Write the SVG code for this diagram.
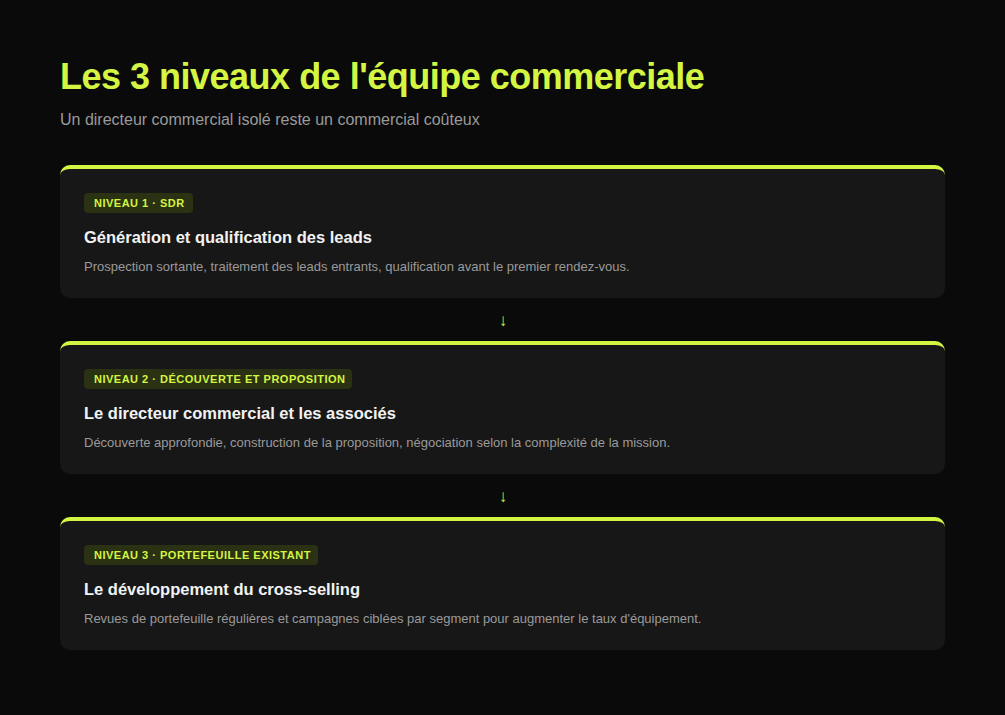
<svg xmlns="http://www.w3.org/2000/svg" width="1005" height="715" viewBox="0 0 1005 715">
<style>
text{font-family:"Liberation Sans",Arial,sans-serif}
.h1{font-size:36px;font-weight:bold;fill:#d4f542;letter-spacing:-0.5px}
.sub{font-size:16px;fill:#9a9a9a}
.card{fill:#171717}
.top{fill:#d4f542}
.badge{fill:#2b3213}
.btxt{font-size:11px;font-weight:bold;fill:#d4f542;letter-spacing:0.5px}
.title{font-size:16.5px;font-weight:bold;fill:#f2f2f2}
.desc{font-size:13px;fill:#9a9a9a}
.arrow{font-size:17px;fill:#d4f542;text-anchor:middle}
</style>
<rect width="1005" height="715" fill="#0a0a0a"/>
<text class="h1" x="60" y="89">Les 3 niveaux de l'équipe commerciale</text>
<text class="sub" x="60" y="125">Un directeur commercial isolé reste un commercial coûteux</text>

<g id="connectors">
<text class="arrow" x="503" y="326">↓</text>
<text class="arrow" x="503" y="502">↓</text>
</g>

<g id="niveau1">
<path class="top" d="M60,176 V175 A10,10 0 0 1 70,165 H935 A10,10 0 0 1 945,175 V176 Z"/>
<path class="card" d="M60,175 A10,6 0 0 1 70,169 H935 A10,6 0 0 1 945,175 V288 A10,10 0 0 1 935,298 H70 A10,10 0 0 1 60,288 Z"/>
<rect class="badge" x="84" y="193" width="109" height="20" rx="4"/>
<text class="btxt" x="94" y="207">NIVEAU 1 · SDR</text>
<text class="title" x="84" y="243">Génération et qualification des leads</text>
<text class="desc" x="84" y="271">Prospection sortante, traitement des leads entrants, qualification avant le premier rendez-vous.</text>
</g>

<g id="niveau2">
<path class="top" d="M60,352 V351 A10,10 0 0 1 70,341 H935 A10,10 0 0 1 945,351 V352 Z"/>
<path class="card" d="M60,351 A10,6 0 0 1 70,345 H935 A10,6 0 0 1 945,351 V464 A10,10 0 0 1 935,474 H70 A10,10 0 0 1 60,464 Z"/>
<rect class="badge" x="84" y="369" width="268" height="20" rx="4"/>
<text class="btxt" x="94" y="383">NIVEAU 2 · DÉCOUVERTE ET PROPOSITION</text>
<text class="title" x="84" y="419">Le directeur commercial et les associés</text>
<text class="desc" x="84" y="447">Découverte approfondie, construction de la proposition, négociation selon la complexité de la mission.</text>
</g>

<g id="niveau3">
<path class="top" d="M60,528 V527 A10,10 0 0 1 70,517 H935 A10,10 0 0 1 945,527 V528 Z"/>
<path class="card" d="M60,527 A10,6 0 0 1 70,521 H935 A10,6 0 0 1 945,527 V640 A10,10 0 0 1 935,650 H70 A10,10 0 0 1 60,640 Z"/>
<rect class="badge" x="84" y="545" width="234" height="20" rx="4"/>
<text class="btxt" x="94" y="559">NIVEAU 3 · PORTEFEUILLE EXISTANT</text>
<text class="title" x="84" y="595">Le développement du cross-selling</text>
<text class="desc" x="84" y="623">Revues de portefeuille régulières et campagnes ciblées par segment pour augmenter le taux d'équipement.</text>
</g>
</svg>
